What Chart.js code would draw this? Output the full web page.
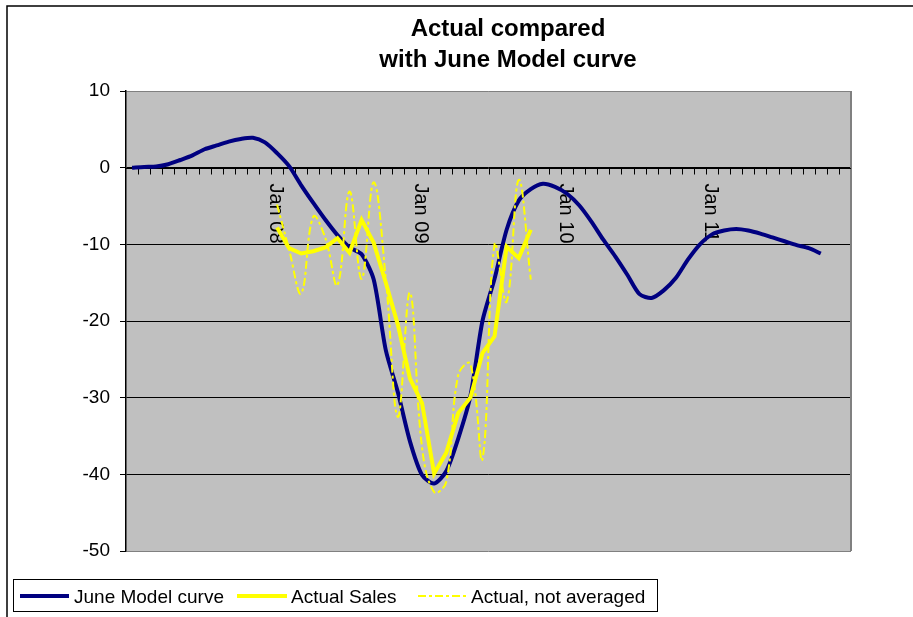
<!DOCTYPE html>
<html>
<head>
<meta charset="utf-8">
<script src="https://cdn.jsdelivr.net/npm/chart.js@4"></script>
<style>
  body { margin: 0; background: #fff; }
  #myChart { display: block; }
</style>
</head>
<body>
<canvas id="myChart" width="913" height="617"></canvas>
<script>
// months Jan 07 .. Dec 11
const monthNames = ["Jan","Feb","Mar","Apr","May","Jun","Jul","Aug","Sep","Oct","Nov","Dec"];
const years = ["07","08","09","10","11"];
const categories = [];
for (let y = 0; y < years.length; y++) {
  for (let m = 0; m < monthNames.length; m++) {
    categories.push(monthNames[m] + " " + years[y]);
  }
}
const tickLabels = ["Jan 08", "Jan 09", "Jan 10", "Jan 11"];
const yTicks = [10, 0, -10, -20, -30, -40, -50];

// June Model curve, Jan 07 .. Oct 11
const modelValues = [
  0, 0.1, 0.15, 0.45, 1.0, 1.6, 2.4, 2.9, 3.4, 3.75, 3.9, 3.3,
  1.9, 0.2, -2.3, -4.6, -6.8, -8.8, -10.4, -11.3, -14.6, -23.8, -29.3, -35.7,
  -40.1, -41.2, -39.6, -35.3, -29.8, -20.0, -14.5, -8.1, -4.3, -2.8, -2.1, -2.5,
  -3.4, -4.9, -7.0, -9.4, -11.6, -14.0, -16.5, -17.0, -16.0, -14.4, -12.0, -10.0,
  -8.7, -8.2, -8.0, -8.2, -8.6, -9.1, -9.6, -10.1, -10.5, -11.2
];
// Actual series start at Jan 08
const actualStart = 12;
const actualSales = [
  -7.8, -10.5, -11.2, -10.9, -10.4, -9.2, -11.1, -6.8, -9.8, -15.0, -20.5,
  -27.5, -30.7, -39.9, -37.2, -32.0, -30.0, -24.2, -22.0, -10.3, -11.8, -8.1
];
const actualRaw = [
  -4.8, -10.7, -16.4, -6.4, -9.2, -15.3, -3.1, -14.5, -1.9, -14.5, -32.5,
  -16.3, -36.5, -42.3, -41.0, -27.0, -25.6, -38.0, -10.0, -17.5, -1.6, -14.6
];

const lead = Array(actualStart).fill(null);
const navy = "#000080";
const yellow = "#FFFF00";
const dashDot = [8, 3, 3, 3];
const fontFamily = "'Liberation Sans', Arial, sans-serif";

const framePlugin = {
  id: "frame",
  beforeDraw(chart) {
    const ctx = chart.ctx;
    const a = chart.chartArea;
    ctx.save();
    ctx.fillStyle = "#fff";
    ctx.fillRect(0, 0, chart.width, chart.height);
    // outer border (top and left)
    ctx.strokeStyle = "#000";
    ctx.lineWidth = 1.5;
    ctx.beginPath();
    ctx.moveTo(7, chart.height);
    ctx.lineTo(7, 6);
    ctx.lineTo(chart.width, 6);
    ctx.stroke();
    ctx.fillStyle = "#C0C0C0";
    ctx.fillRect(a.left, a.top, a.right - a.left, a.bottom - a.top);
    ctx.restore();
  },
  beforeDatasetsDraw(chart) {
    const ctx = chart.ctx;
    const a = chart.chartArea;
    const x = chart.scales.x;
    const y0 = Math.round(chart.scales.y.getPixelForValue(0)) + 0.5;
    ctx.save();
    // right border of plot
    ctx.strokeStyle = "#808080";
    ctx.lineWidth = 2;
    ctx.beginPath();
    ctx.moveTo(a.right, a.top);
    ctx.lineTo(a.right, a.bottom);
    ctx.stroke();
    // x axis at zero with tick marks between months
    ctx.strokeStyle = "#000";
    ctx.lineWidth = 1;
    ctx.beginPath();
    ctx.moveTo(a.left, y0);
    ctx.lineTo(a.right, y0);
    const step = (a.right - a.left) / categories.length;
    for (let i = 1; i < categories.length; i++) {
      const tx = Math.round(a.left + i * step) + 0.5;
      ctx.moveTo(tx, y0);
      ctx.lineTo(tx, y0 + 6);
    }
    ctx.stroke();
    // rotated year labels
    ctx.fillStyle = "#000";
    ctx.font = "20px " + fontFamily;
    ctx.textAlign = "left";
    ctx.textBaseline = "middle";
    tickLabels.forEach(function (lab) {
      const px = x.getPixelForValue(categories.indexOf(lab));
      ctx.save();
      ctx.translate(px - 2, y0 + 15);
      ctx.rotate(Math.PI / 2);
      ctx.fillText(lab, 0, 0);
      ctx.restore();
    });
    ctx.restore();
  },
  afterDraw(chart) {
    const ctx = chart.ctx;
    ctx.save();
    // title
    ctx.fillStyle = "#000";
    ctx.font = "bold 24px " + fontFamily;
    ctx.textAlign = "center";
    ctx.textBaseline = "alphabetic";
    ctx.fillText("Actual compared", 508, 36);
    ctx.fillText("with June Model curve", 508, 67);
    // legend
    ctx.strokeStyle = "#000";
    ctx.lineWidth = 1;
    ctx.strokeRect(13.5, 579.5, 644, 32);
    ctx.font = "19px " + fontFamily;
    ctx.textAlign = "left";
    const ly = 596;
    const items = [
      { x0: 20, x1: 69, tx: 74, color: navy, w: 4, dash: [], text: chart.data.datasets[0].label },
      { x0: 237, x1: 287, tx: 291, color: yellow, w: 4, dash: [], text: chart.data.datasets[1].label },
      { x0: 418, x1: 466, tx: 471, color: yellow, w: 2, dash: dashDot, text: chart.data.datasets[2].label }
    ];
    items.forEach(function (it) {
      ctx.strokeStyle = it.color;
      ctx.lineWidth = it.w;
      ctx.setLineDash(it.dash);
      ctx.beginPath();
      ctx.moveTo(it.x0, ly);
      ctx.lineTo(it.x1, ly);
      ctx.stroke();
      ctx.setLineDash([]);
      ctx.fillText(it.text, it.tx, 603);
    });
    ctx.restore();
  }
};

new Chart("myChart", {
  type: "line",
  data: {
    labels: categories,
    datasets: [
      {
        label: "June Model curve",
        data: modelValues,
        borderColor: navy,
        borderWidth: 4,
        tension: 0.25,
        pointRadius: 0,
        order: 3
      },
      {
        label: "Actual Sales",
        data: lead.concat(actualSales),
        borderColor: yellow,
        borderWidth: 4,
        tension: 0,
        pointRadius: 0,
        order: 2
      },
      {
        label: "Actual, not averaged",
        data: lead.concat(actualRaw),
        borderColor: yellow,
        borderWidth: 2,
        borderDash: dashDot,
        tension: 0.4,
        pointRadius: 0,
        order: 1
      }
    ]
  },
  options: {
    responsive: false,
    animation: false,
    devicePixelRatio: 1,
    layout: { padding: { left: 0, top: 91, right: 62, bottom: 66 } },
    plugins: {
      legend: { display: false },
      title: { display: false },
      tooltip: { enabled: false }
    },
    scales: {
      x: {
        type: "category",
        display: false,
        offset: true
      },
      y: {
        min: -50,
        max: 10,
        afterFit: function (s) { s.width = 126; },
        afterBuildTicks: function (s) {
          s.ticks = yTicks.map(function (v) { return { value: v }; });
        },
        ticks: {
          color: "#000",
          padding: 10,
          font: { family: fontFamily, size: 19 }
        },
        grid: {
          color: function (c) {
            return (c.tick && (c.tick.value === 10 || c.tick.value === -50)) ? "#808080" : "#000";
          },
          lineWidth: 1,
          tickLength: 6,
          tickColor: "#000"
        },
        border: { color: "#000", width: 1.5 }
      }
    }
  },
  plugins: [framePlugin]
});
</script>
</body>
</html>
